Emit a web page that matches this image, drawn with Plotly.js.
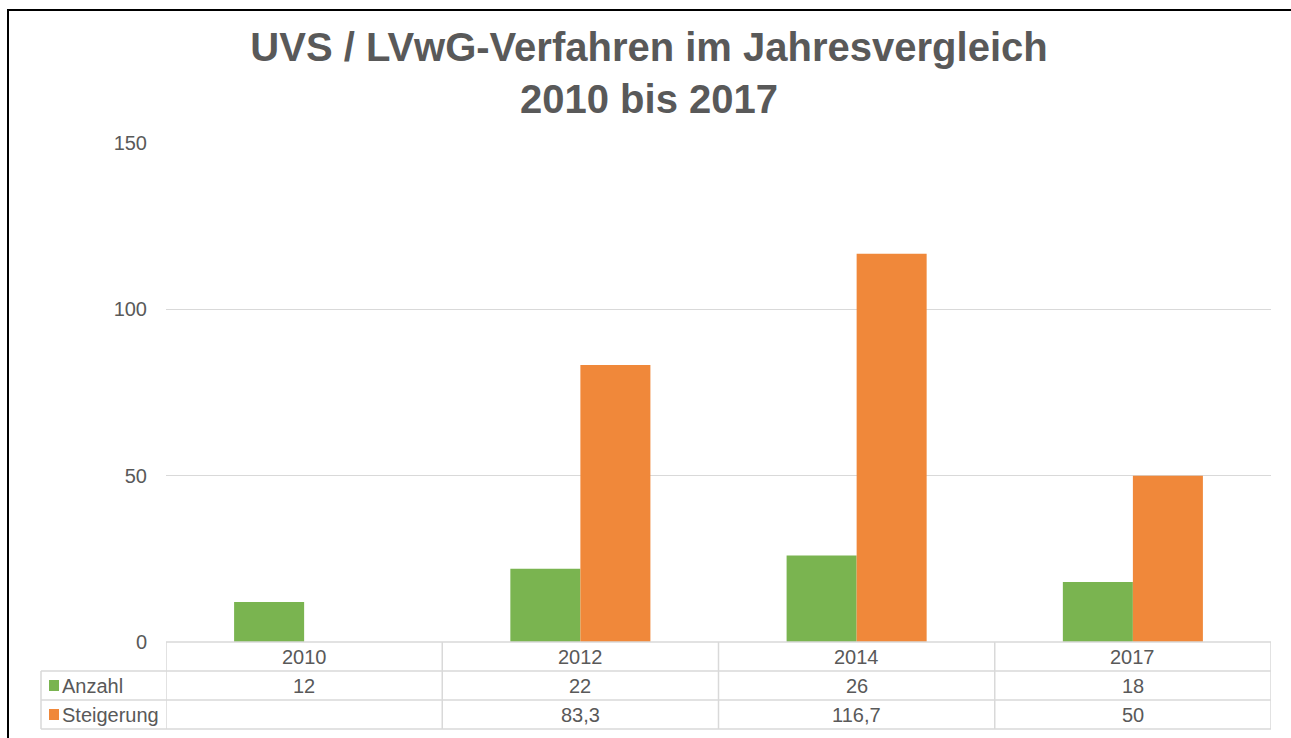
<!DOCTYPE html>
<html>
<head>
<meta charset="utf-8">
<script src="https://cdn.plot.ly/plotly-3.0.1.min.js"></script>
<style>html,body{margin:0;padding:0;background:#fff;}#chart{width:1291px;height:738px;}</style>
</head>
<body>
<div id="chart"></div>
<script>
const categories = ['2010', '2012', '2014', '2017'];
const anzahl = [12, 22, 26, 18];
const steigerung = [null, 83.3, 116.7, 50];
const seriesNames = ['Anzahl', 'Steigerung'];
const seriesColors = ['#7ab450', '#f0883a'];
const yTicks = [0, 50, 100, 150];

const W = 1291, H = 738;
const L = 166, R = 20, T = 143, B = 96;
const plotW = W - L - R, plotH = H - T - B;
const px = p => (p - L) / plotW;          // pixel x -> paper x
const py = p => (H - B - p) / plotH;      // pixel y -> paper y

const textColor = '#595959';
const lineColor = '#d9d9d9';
const font = 'Liberation Sans, Arial, sans-serif';
const fs = 20;

function fmt(v) {
  if (v === null || v === undefined) return '';
  return String(v).replace('.', ',');
}

const traces = [
  {type: 'bar', name: seriesNames[0], x: categories, y: anzahl, marker: {color: seriesColors[0]}},
  {type: 'bar', name: seriesNames[1], x: categories, y: steigerung, marker: {color: seriesColors[1]}}
];

// table geometry (pixel rows)
const rowTops = [642, 671, 700, 729];
const labelLeft = 41;

const shapes = [];
shapes.push({type: 'line', xref: 'paper', yref: 'paper', x0: 0, x1: 1, y0: py(rowTops[0]), y1: py(rowTops[0]), line: {color: lineColor, width: 1.5}});
for (let i = 1; i < rowTops.length; i++) {
  shapes.push({type: 'line', xref: 'paper', yref: 'paper', x0: px(labelLeft), x1: 1, y0: py(rowTops[i]), y1: py(rowTops[i]), line: {color: lineColor, width: 1.5}});
}
for (let i = 0; i <= categories.length; i++) {
  shapes.push({type: 'line', xref: 'x', yref: 'paper', x0: i - 0.5, x1: i - 0.5, y0: py(rowTops[0]), y1: py(rowTops[3]), line: {color: lineColor, width: 1.5}});
}
shapes.push({type: 'line', xref: 'paper', yref: 'paper', x0: px(labelLeft), x1: px(labelLeft), y0: py(rowTops[1]), y1: py(rowTops[3]), line: {color: lineColor, width: 1.5}});
[0, 1].forEach(s => {
  const top = rowTops[s + 1] + 9;
  shapes.push({type: 'rect', xref: 'paper', yref: 'paper', x0: px(49), x1: px(59), y0: py(top + 11), y1: py(top), fillcolor: seriesColors[s], line: {width: 0}});
});
shapes.push({type: 'rect', xref: 'paper', yref: 'paper', x0: px(8), x1: px(1300), y0: py(760), y1: py(10), line: {color: '#000', width: 2}, fillcolor: 'rgba(0,0,0,0)'});

const annotations = [];
const rowCenter = i => py((rowTops[i] + rowTops[i + 1]) / 2);
categories.forEach((c, i) => {
  annotations.push({xref: 'x', yref: 'paper', x: i, y: rowCenter(0), text: c, showarrow: false, xanchor: 'center', yanchor: 'middle', font: {family: font, size: fs, color: textColor}});
  annotations.push({xref: 'x', yref: 'paper', x: i, y: rowCenter(1), text: fmt(anzahl[i]), showarrow: false, xanchor: 'center', yanchor: 'middle', font: {family: font, size: fs, color: textColor}});
  annotations.push({xref: 'x', yref: 'paper', x: i, y: rowCenter(2), text: fmt(steigerung[i]), showarrow: false, xanchor: 'center', yanchor: 'middle', font: {family: font, size: fs, color: textColor}});
});
seriesNames.forEach((n, s) => {
  annotations.push({xref: 'paper', yref: 'paper', x: px(60), y: rowCenter(s + 1), text: n, showarrow: false, xanchor: 'left', yanchor: 'middle', font: {family: font, size: fs, color: textColor}});
});

const layout = {
  width: W, height: H,
  margin: {l: L, r: R, t: T, b: B},
  paper_bgcolor: '#fff', plot_bgcolor: '#fff',
  showlegend: false,
  hovermode: false,
  barmode: 'group',
  bargap: 0.493,
  bargroupgap: 0,
  title: {
    text: 'UVS / LVwG-Verfahren im Jahresvergleich<br>2010 bis 2017',
    font: {family: font, size: 40, color: textColor, weight: 'bold'},
    x: 649 / W, xanchor: 'center',
    y: 1 - 61 / H, yanchor: 'top', yref: 'container'
  },
  xaxis: {
    type: 'category', showticklabels: false, showgrid: false, zeroline: false, showline: false, ticks: '',
    range: [-0.5, categories.length - 0.5], fixedrange: true
  },
  yaxis: {
    range: [0, 150], tickvals: yTicks, showgrid: true, gridcolor: lineColor, gridwidth: 1.5,
    zeroline: false, showline: false, ticks: 'outside', ticklen: 14, tickcolor: 'rgba(0,0,0,0)',
    tickfont: {family: font, size: fs, color: textColor}, fixedrange: true
  },
  shapes: shapes,
  annotations: annotations
};

Plotly.newPlot('chart', traces, layout, {displayModeBar: false, staticPlot: true});
</script>
</body>
</html>
